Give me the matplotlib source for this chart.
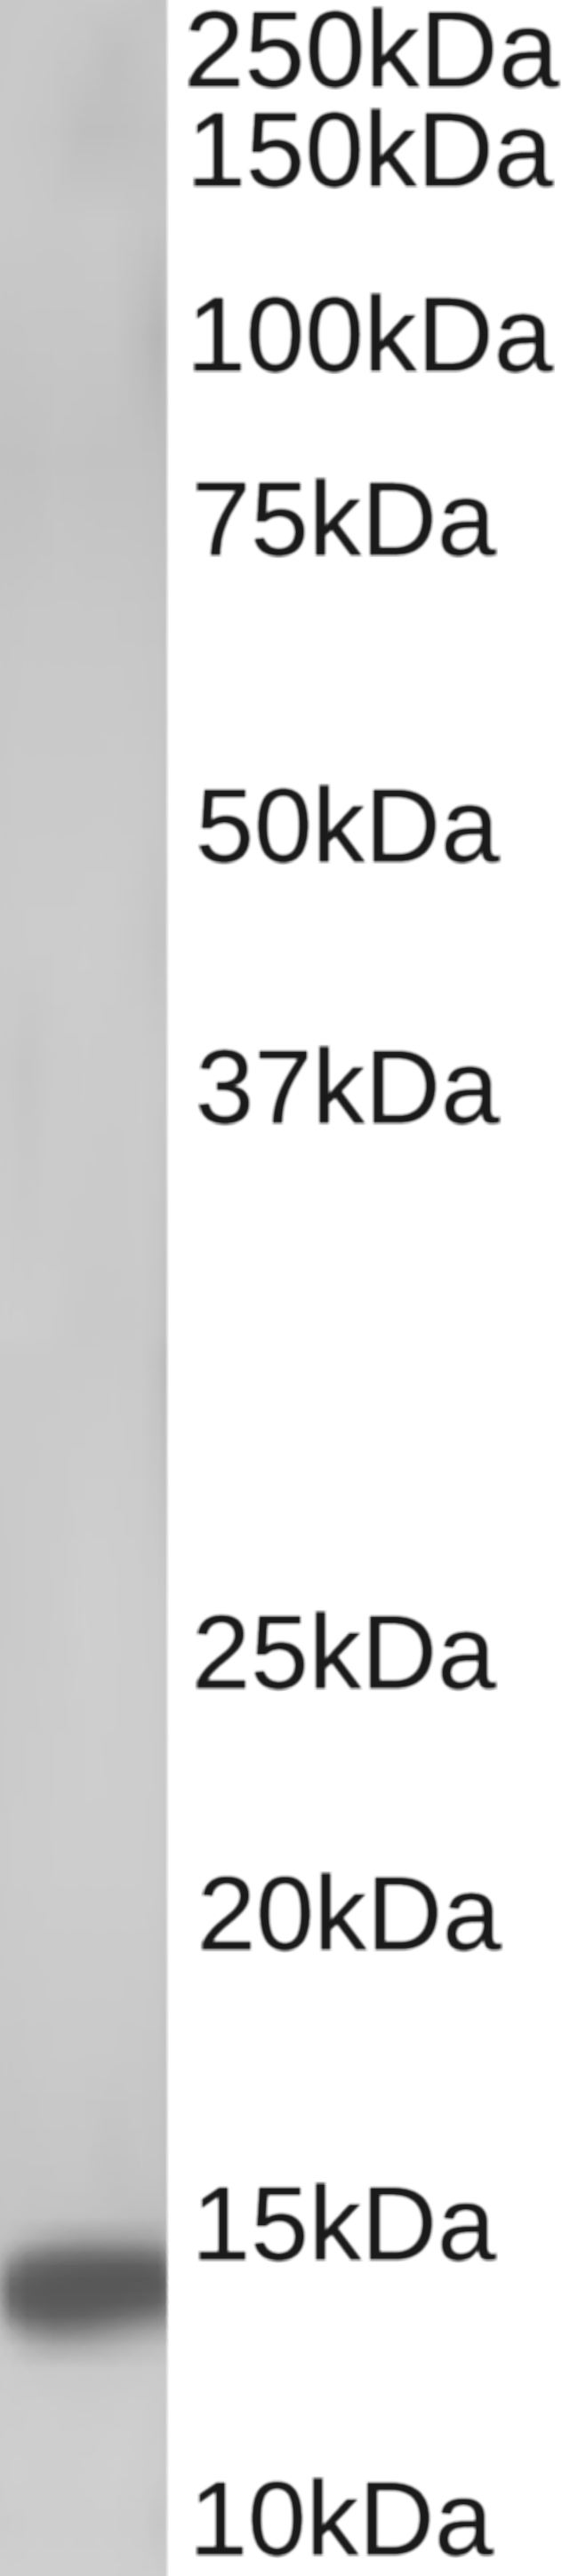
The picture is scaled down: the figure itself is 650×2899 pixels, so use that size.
import numpy as np
import matplotlib
matplotlib.use("Agg")
import matplotlib.pyplot as plt
import matplotlib.patheffects as pe

# marker labels, x of the text start and baseline in pixels
labels = ["250kDa", "150kDa", "100kDa", "75kDa", "50kDa", "37kDa", "25kDa", "20kDa", "15kDa", "10kDa"]
label_x = [207, 210, 210, 216, 220, 220, 216, 222, 216, 213]
label_y = [98, 210, 418, 625, 970, 1264, 1900, 2194, 2543, 2875]
label_pt = [88, 86, 86, 85, 85, 85, 85, 85, 85, 85]

# grey levels
lane_x = [0, 12, 30, 60, 95, 130, 160, 178, 186]
lane_y = [0, 60, 150, 250, 380, 520, 700, 900, 1060, 1200, 1500, 1530, 1800,
          2100, 2300, 2450, 2495, 2520, 2535, 2550, 2565, 2577, 2592, 2607, 2622, 2640, 2665, 2720, 2780, 2840, 2899]
lane_grey = [
    [200, 200, 201, 201, 200, 200, 198, 196, 198],
    [200, 201, 201, 200, 198, 192, 196, 198, 198],
    [201, 201, 200, 198, 191, 192, 194, 195, 196],
    [201, 201, 201, 200, 201, 201, 198, 197, 197],
    [197, 197, 198, 198, 198, 198, 190, 182, 188],
    [193, 193, 193, 196, 195, 194, 194, 193, 191],
    [199, 199, 200, 200, 200, 200, 199, 198, 197],
    [201, 202, 202, 202, 202, 203, 202, 201, 199],
    [203, 203, 204, 204, 205, 204, 201, 197, 198],
    [201, 201, 198, 203, 204, 203, 204, 202, 201],
    [205, 205, 205, 204, 201, 201, 202, 199, 194],
    [202, 202, 202, 202, 202, 203, 202, 195, 188],
    [201, 202, 203, 204, 207, 206, 205, 204, 202],
    [203, 204, 204, 205, 205, 205, 205, 204, 202],
    [200, 200, 201, 202, 202, 202, 201, 200, 197],
    [197, 197, 197, 198, 198, 194, 197, 196, 194],
    [196, 197, 196, 195, 194, 192, 190, 190, 190],
    [194, 190, 180, 168, 160, 160, 162, 166, 176],
    [186, 170, 145, 128, 122, 122, 124, 130, 148],
    [174, 138, 110, 100, 96, 94, 96, 100, 122],
    [162, 114, 96, 90, 88, 88, 88, 92, 108],
    [158, 106, 92, 88, 88, 88, 90, 92, 108],
    [164, 112, 94, 90, 90, 92, 96, 102, 118],
    [178, 134, 108, 98, 100, 110, 122, 130, 140],
    [192, 170, 142, 126, 130, 144, 156, 162, 168],
    [200, 195, 180, 168, 170, 178, 186, 190, 192],
    [204, 204, 202, 200, 200, 201, 202, 202, 202],
    [205, 205, 206, 206, 205, 206, 206, 204, 202],
    [206, 207, 207, 206, 207, 208, 206, 205, 203],
    [204, 205, 206, 206, 206, 206, 205, 198, 200],
    [207, 207, 207, 207, 207, 207, 206, 206, 205],
]


def soften(image, dpi):
    # small box blur so the labels look like the resized scan
    pad = 4
    out = np.pad(image, ((pad, pad), (pad, pad), (0, 0)))
    for axis in (0, 1):
        out = (np.roll(out, -2, axis) + np.roll(out, -1, axis) + out
               + np.roll(out, 1, axis) + np.roll(out, 2, axis)) / 5
    return out, -pad, -pad


fig = plt.figure(figsize=(6.5, 28.995), dpi=100, facecolor="white")
ax = fig.add_axes([0, 0, 1, 1])
ax.set_xlim(0, 650)
ax.set_ylim(2899, 0)
ax.axis("off")

# lane fades to white over a few pixels on its right edge
xs = lane_x + [190]
grey = np.hstack([np.array(lane_grey), np.full((len(lane_y), 1), 255)])
ax.pcolormesh(xs, lane_y, grey, cmap="gray", vmin=0, vmax=255, shading="gouraud")

for name, x, y, pt in zip(labels, label_x, label_y, label_pt):
    t = ax.text(x, y, name, fontsize=pt, family="Liberation Sans", color="#1a1a1a", ha="left", va="baseline")
    t.set_path_effects([pe.withStroke(linewidth=0.6, foreground="#1a1a1a")])
    t.set_agg_filter(soften)

fig.savefig("out.png", dpi=100, facecolor="white")
